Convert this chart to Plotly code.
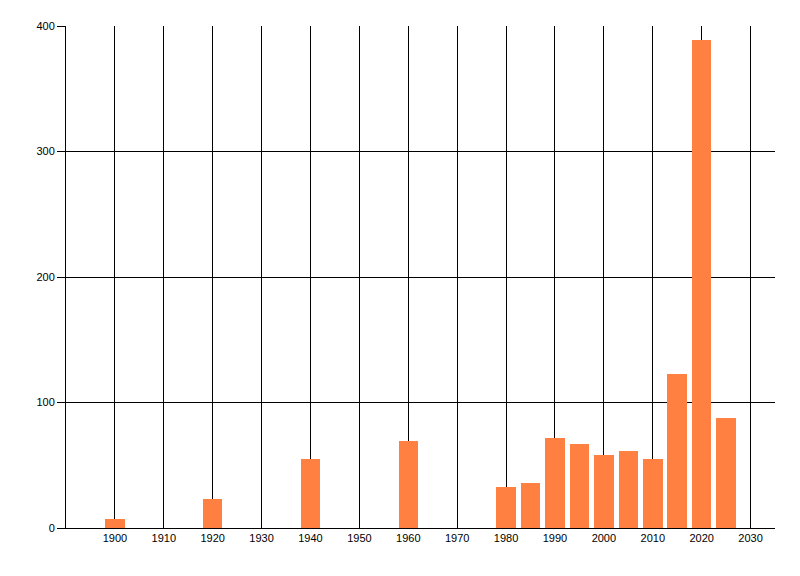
import plotly.graph_objects as go

years = [1900, 1920, 1940, 1960, 1980, 1985, 1990, 1995, 2000, 2005, 2010, 2015, 2020, 2025]
counts = [7, 23, 55, 69, 33, 36, 72, 67, 58, 61, 55, 123, 389, 88]
x_ticks = list(range(1900, 2031, 10))
y_ticks = [0, 100, 200, 300, 400]

fig = go.Figure(go.Bar(x=years, y=counts, width=4, marker=dict(color="#FF8040", line=dict(width=0))))

fig.update_layout(
    width=800, height=576,
    margin=dict(l=58, r=33, t=18, b=56, pad=0),
    paper_bgcolor="white", plot_bgcolor="white",
    showlegend=False,
    font=dict(family="Liberation Sans, Arial, sans-serif", size=11, color="black"),
    bargap=0,
)
fig.update_xaxes(
    range=[1890, 2035], tickvals=x_ticks, ticktext=[str(v) for v in x_ticks],
    showgrid=True, gridcolor="black", gridwidth=1,
    showline=True, linecolor="black", linewidth=1,
    ticks="", zeroline=False, automargin=False,
)
fig.update_yaxes(
    range=[0, 400], tickvals=y_ticks,
    showgrid=True, gridcolor="black", gridwidth=1,
    showline=True, linecolor="black", linewidth=1,
    ticks="outside", ticklen=8, tickcolor="black", zeroline=False, automargin=False,
)
fig.write_html("out.html")
